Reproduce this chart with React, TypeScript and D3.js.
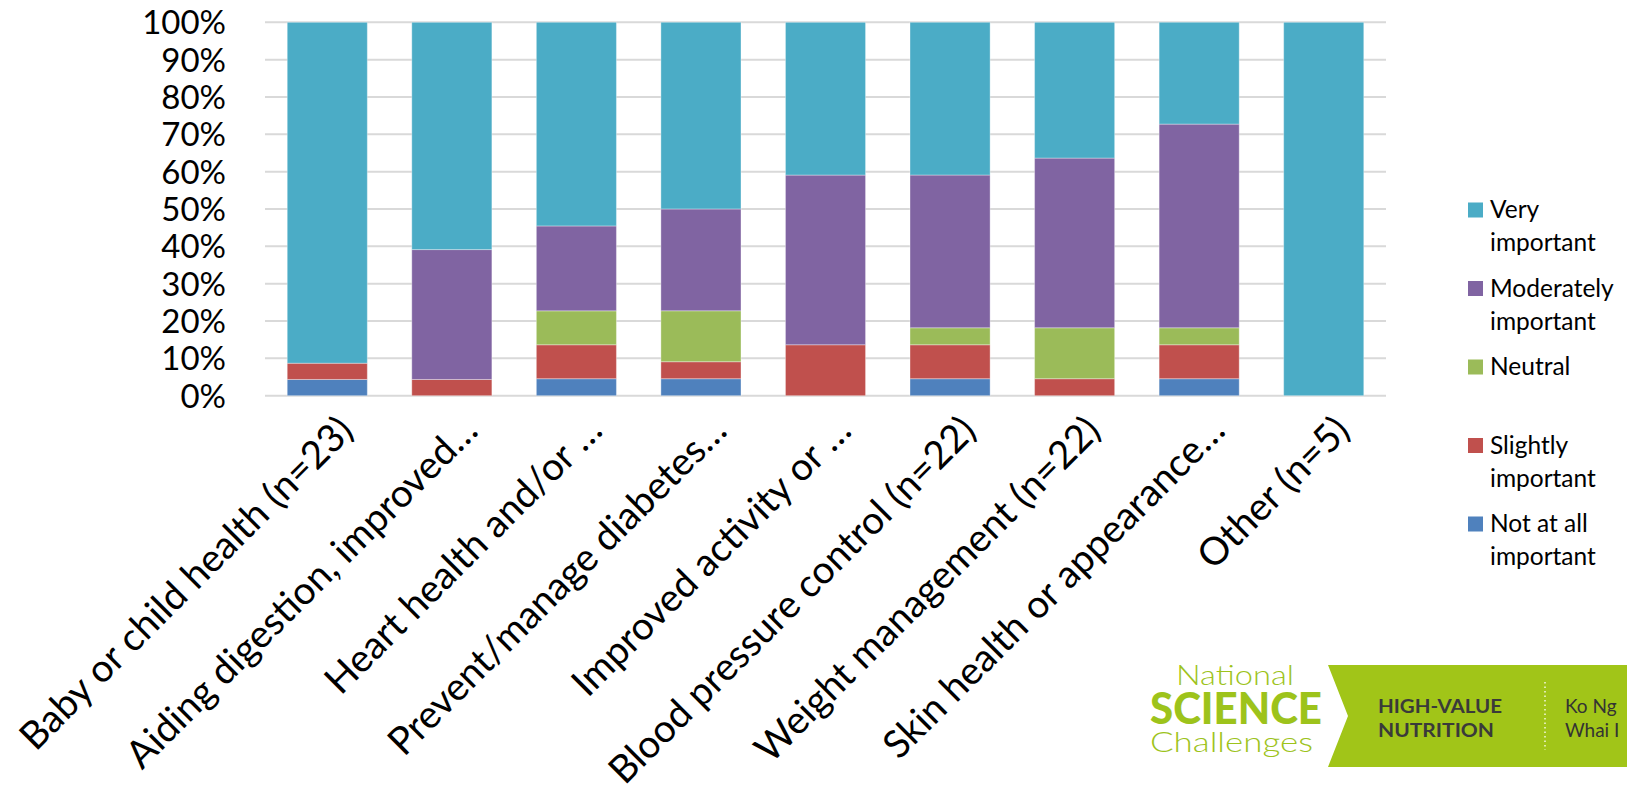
import React from "react";
import * as d3 from "d3";

const categories = [
  "Baby or child health (n=23)",
  "Aiding digestion, improved…",
  "Heart health and/or …",
  "Prevent/manage diabetes…",
  "Improved activity or …",
  "Blood pressure control (n=22)",
  "Weight management (n=22)",
  "Skin health or appearance…",
  "Other (n=5)",
];

const notAtAllImportant = [4.35, 0, 4.55, 4.55, 0, 4.55, 0, 4.55, 0];
const slightlyImportant = [4.35, 4.35, 9.09, 4.55, 13.64, 9.09, 4.55, 9.09, 0];
const neutral = [0, 0, 9.09, 13.64, 0, 4.55, 13.64, 4.55, 0];
const moderatelyImportant = [0, 34.78, 22.73, 27.27, 45.45, 40.91, 45.45, 54.55, 0];
const veryImportant = [91.3, 60.87, 54.55, 50, 40.91, 40.91, 36.36, 27.27, 100];

const seriesKeys = ["notAtAll", "slightly", "neutral", "moderately", "very"];
const seriesColors = ["#4F81BD", "#C0504D", "#9BBB59", "#8064A2", "#4BACC6"];
const legendOrder = ["very", "moderately", "neutral", "slightly", "notAtAll"];
const legendLabels: Record<string, string[]> = {
  very: ["Very", "important"],
  moderately: ["Moderately", "important"],
  neutral: ["Neutral"],
  slightly: ["Slightly", "important"],
  notAtAll: ["Not at all", "important"],
};
const yTicks = [0, 10, 20, 30, 40, 50, 60, 70, 80, 90, 100];

const W = 1627;
const H = 789;
const FONT = "Lato, 'Liberation Sans', sans-serif";
const LOGO_GREEN = "#9DC31B";

export default function App() {
  const rows = categories.map((c, i) => ({
    category: c,
    notAtAll: notAtAllImportant[i],
    slightly: slightlyImportant[i],
    neutral: neutral[i],
    moderately: moderatelyImportant[i],
    very: veryImportant[i],
  }));
  const stacked = d3.stack<any>().keys(seriesKeys)(rows);

  const x = d3
    .scaleBand<string>()
    .domain(categories)
    .range([265, 1386])
    .paddingInner(0.357)
    .paddingOuter(0.1785);
  const y = d3.scaleLinear().domain([0, 100]).range([395.7, 22.3]);
  const color = d3.scaleOrdinal<string, string>().domain(seriesKeys).range(seriesColors);

  const legendY = d3.scalePoint<string>().domain(legendOrder).range([210, 524]);

  return (
    <svg
      width={W}
      height={H}
      style={{ position: "absolute", left: 0, top: 0, background: "#fff" }}
      fontFamily={FONT}
    >
      <rect x={0} y={0} width={W} height={H} fill="#fff" />
      {/* gridlines */}
      {yTicks.map((t) => (
        <line
          key={t}
          x1={265}
          x2={1386}
          y1={y(t)}
          y2={y(t)}
          stroke="#D9D9D9"
          strokeWidth={2}
        />
      ))}
      {/* y tick labels */}
      {yTicks.map((t) => (
        <text
          key={"l" + t}
          x={226}
          y={y(t)}
          dy="0.36em"
          textAnchor="end"
          fontSize={33}
          fill="#000"
        >
          {t + "%"}
        </text>
      ))}
      {/* bars */}
      {stacked.map((s) => (
        <g key={s.key} fill={color(s.key)}>
          {s.map((d, i) =>
            d[1] - d[0] > 0 ? (
              <rect
                key={i}
                x={x(categories[i])}
                width={x.bandwidth()}
                y={y(d[1])}
                height={y(d[0]) - y(d[1])}
                stroke="#ffffff"
                strokeOpacity={0.35}
                strokeWidth={1}
              />
            ) : null
          )}
        </g>
      ))}
      {/* x labels */}
      {categories.map((c) => {
        const cx = (x(c) as number) + x.bandwidth() / 2;
        return (
          <text
            key={c}
            transform={`translate(${cx + 28},${y(0) + 37}) rotate(-45)`}
            textAnchor="end"
            fontSize={38.5}
            fill="#000"
          >
            {c}
          </text>
        );
      })}
      {/* legend */}
      {legendOrder.map((k) => {
        const cy = legendY(k) as number;
        return (
          <g key={k}>
            <rect x={1468} y={cy - 7.5} width={15} height={15} fill={color(k)} />
            {legendLabels[k].map((line, li) => (
              <text key={li} x={1490} y={cy + 8 + li * 33} fontSize={24.5} fill="#000">
                {line}
              </text>
            ))}
          </g>
        );
      })}
      {/* logo */}
      <g>
        <text
          x={1176}
          y={685}
          fontSize={27}
          fill={LOGO_GREEN}
          fontWeight={300}
          textLength={118}
          lengthAdjust="spacingAndGlyphs"
        >
          National
        </text>
        <text
          x={1150}
          y={724}
          fontSize={44}
          fill={LOGO_GREEN}
          fontWeight={900}
          textLength={172}
          lengthAdjust="spacingAndGlyphs"
        >
          SCIENCE
        </text>
        <text
          x={1150}
          y={752}
          fontSize={27}
          fill={LOGO_GREEN}
          fontWeight={300}
          textLength={163}
          lengthAdjust="spacingAndGlyphs"
        >
          Challenges
        </text>
        <polygon points="1328,665 1627,665 1627,767 1328,767 1348,716" fill="#A1C518" />
        <text
          x={1378}
          y={713}
          fontSize={19.5}
          fontWeight={700}
          fill="#3a3a3a"
          textLength={124}
          lengthAdjust="spacingAndGlyphs"
        >
          HIGH-VALUE
        </text>
        <text
          x={1378}
          y={737}
          fontSize={19.5}
          fontWeight={700}
          fill="#3a3a3a"
          textLength={116}
          lengthAdjust="spacingAndGlyphs"
        >
          NUTRITION
        </text>
        <line
          x1={1545}
          x2={1545}
          y1={682}
          y2={750}
          stroke="#f4f8e0"
          strokeWidth={1.5}
          strokeDasharray="1.5,3"
        />
        <text x={1565} y={713} fontSize={19} fill="#333">
          Ko Ng
        </text>
        <text x={1565} y={737} fontSize={19} fill="#333">
          Whai I
        </text>
      </g>
    </svg>
  );
}
